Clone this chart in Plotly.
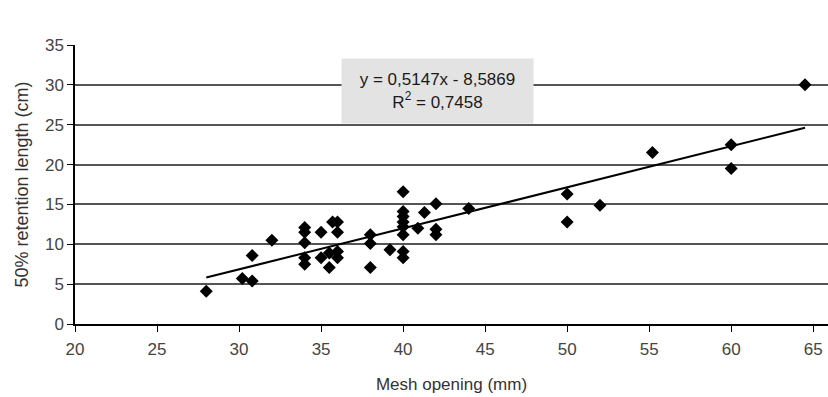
import plotly.graph_objects as go

mesh_opening = [28, 30.2, 30.8, 30.8, 32,
                34, 34, 34, 34, 34,
                35, 35, 35.5, 35.5, 35.7, 36, 36, 36, 36,
                38, 38, 38, 39.2,
                40, 40, 40, 40, 40, 40, 40, 40,
                40.9, 41.3, 42, 42, 42, 44,
                50, 50, 52, 55.2, 60, 60, 64.5]
retention_length = [4.1, 5.7, 5.4, 8.6, 10.5,
                    12.1, 11.5, 10.2, 8.3, 7.5,
                    11.5, 8.3, 7.1, 8.9, 12.8, 12.8, 11.5, 9.1, 8.3,
                    11.2, 10.1, 7.1, 9.3,
                    16.6, 14.1, 13.5, 12.8, 12.2, 11.2, 9.1, 8.3,
                    12.0, 14.0, 15.1, 11.9, 11.2, 14.5,
                    16.3, 12.8, 14.9, 21.5, 22.5, 19.5, 30.0]

slope = 0.5147
intercept = -8.5869
r_squared = 0.7458

x_ticks = [20, 25, 30, 35, 40, 45, 50, 55, 60, 65]
y_ticks = [0, 5, 10, 15, 20, 25, 30, 35]

trend_x = [min(mesh_opening), max(mesh_opening)]
trend_y = [slope * v + intercept for v in trend_x]

fig = go.Figure()
fig.add_trace(go.Scatter(x=trend_x, y=trend_y, mode="lines",
                         line=dict(color="black", width=2), showlegend=False))
fig.add_trace(go.Scatter(x=mesh_opening, y=retention_length, mode="markers",
                         marker=dict(symbol="diamond", size=10, color="black"),
                         showlegend=False))

fmt = lambda v: f"{v:.4f}".replace(".", ",")
eq_text = f"y = {fmt(slope)}x - {fmt(-intercept)}<br>R<sup>2</sup> = {fmt(r_squared)}"
fig.add_annotation(x=42.1, y=29.2, xref="x", yref="y", text=eq_text,
                   showarrow=False, bgcolor="#e3e3e3", width=189, height=62,
                   align="center", font=dict(family="Liberation Sans", size=17, color="#1a1a1a"))

fig.update_layout(
    width=828, height=397,
    margin=dict(l=75, r=0, t=45, b=73),
    plot_bgcolor="white", paper_bgcolor="white",
    font=dict(family="Liberation Sans", size=16, color="#333"),
    xaxis=dict(range=[20, 65.9], tickvals=x_ticks, ticks="outside", ticklen=6,
               tickcolor="black", showline=True, linecolor="black", linewidth=1.5,
               showgrid=False, zeroline=False, automargin=False,
               ticklabelstandoff=3,
               tickfont=dict(size=17, color="#444"),
               title=dict(text="Mesh opening (mm)", standoff=20,
                          font=dict(size=17, color="#333"))),
    yaxis=dict(range=[0, 35], tickvals=y_ticks, ticks="outside", ticklen=6,
               tickcolor="black", showline=True, linecolor="black", linewidth=1.5,
               showgrid=True, gridcolor="#555", gridwidth=1.5, zeroline=False,
               automargin=False, tickfont=dict(size=17, color="#444"),
               title=dict(text="50% retention length (cm)", standoff=12,
                          font=dict(size=18, color="#333"))),
)

fig.write_html("out.html", post_script="document.body.style.margin='0';",
               config={"displayModeBar": False})
